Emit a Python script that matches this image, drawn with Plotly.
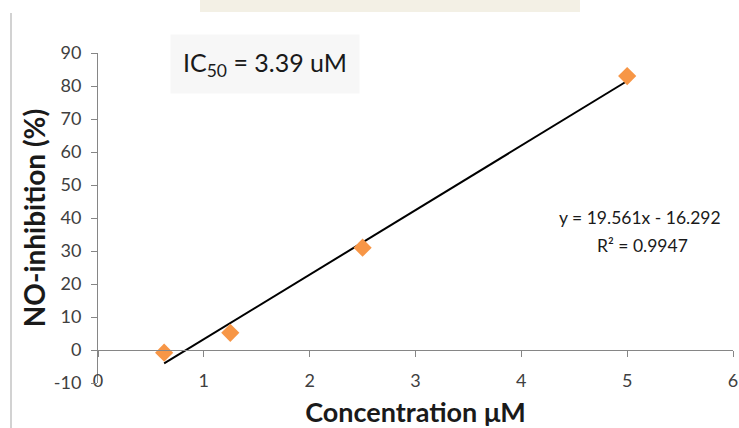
import plotly.graph_objects as go

# Data
conc = [0.625, 1.25, 2.5, 5.0]
inhibition = [-0.8, 5.2, 31.0, 83.0]
slope = 19.561
intercept = -16.292
r2 = 0.9947
ic50_text = "IC<sub>50</sub> = 3.39 uM"
x_ticks = [0, 1, 2, 3, 4, 5, 6]
x_labels = ["0", "1", "2", "3", "4", "5", "6"]
y_ticks = [-10, 0, 10, 20, 30, 40, 50, 60, 70, 80, 90]
y_labels = ["-10", "0", "10", "20", "30", "40", "50", "60", "70", "80", "90"]

W, H = 739, 428
L, R, T, B = 98, 6, 53, 45
pw, ph = W - L - R, H - T - B

def px_x(p):
    return (p - L) / pw

def px_y(p):
    return (H - B - p) / ph

trend_x = [min(conc), max(conc)]
trend_y = [slope * x + intercept for x in trend_x]

FONT = "Lato, 'Open Sans', sans-serif"
GREY = "#868686"
TXT = "#404040"

fig = go.Figure()
fig.add_trace(go.Scatter(x=trend_x, y=trend_y, mode="lines",
                         line=dict(color="black", width=2), hoverinfo="skip",
                         showlegend=False))
fig.add_trace(go.Scatter(x=conc, y=inhibition, mode="markers",
                         marker=dict(symbol="diamond", size=14, color="#F79646",
                                     line=dict(width=0)),
                         showlegend=False))

fig.update_layout(
    width=W, height=H,
    margin=dict(l=L, r=R, t=T, b=B, pad=0),
    paper_bgcolor="white", plot_bgcolor="white",
    font=dict(family=FONT, color=TXT),
    xaxis=dict(range=[0, 6], tickvals=x_ticks, ticktext=x_labels,
               showgrid=False, zeroline=False, automargin=False,
               anchor="free", position=0.1,
               showline=True, linecolor=GREY, linewidth=1,
               ticks="outside", ticklen=6, tickcolor=GREY,
               ticklabelstandoff=8,
               tickfont=dict(size=18, color=TXT, family=FONT),
               title=dict(text="<b>Concentration μM</b>", standoff=13,
                          font=dict(size=27, color="#1a1a1a", family=FONT))),
    yaxis=dict(range=[-10, 90], tickvals=y_ticks, ticktext=y_labels,
               showgrid=False, zeroline=False, automargin=False,
               showline=True, linecolor=GREY, linewidth=1,
               ticks="outside", ticklen=6, tickcolor=GREY,
               ticklabelstandoff=6,
               tickfont=dict(size=18, color=TXT, family=FONT),
               title=dict(text="<b>NO-inhibition (%)</b>", standoff=0,
                          font=dict(size=28, color="#1a1a1a", family=FONT))),
)

fig.add_annotation(xref="paper", yref="paper", x=px_x(265), y=px_y(64),
                   xanchor="center", yanchor="middle",
                   text=ic50_text, showarrow=False,
                   font=dict(size=25, color="#1a1a1a", family=FONT),
                   bgcolor="#f7f7f7", borderpad=12)
fig.add_annotation(xref="paper", yref="paper", x=px_x(640), y=px_y(217),
                   xanchor="center", yanchor="middle",
                   text=f"y = {slope}x - {abs(intercept)}",
                   showarrow=False, align="center",
                   font=dict(size=17.5, color="#1a1a1a", family=FONT))
fig.add_annotation(xref="paper", yref="paper", x=px_x(642), y=px_y(245),
                   xanchor="center", yanchor="middle",
                   text=f"R² = {r2}",
                   showarrow=False, align="center",
                   font=dict(size=17.5, color="#1a1a1a", family=FONT))

# page frame / watermark decorations
fig.add_shape(type="line", xref="paper", yref="paper",
              x0=px_x(11), x1=px_x(11), y0=px_y(13), y1=px_y(428),
              line=dict(color="#d2d2d2", width=2))
fig.add_shape(type="rect", xref="paper", yref="paper",
              x0=px_x(200), x1=px_x(580), y0=px_y(0), y1=px_y(12),
              fillcolor="#f3f0e5", line=dict(width=0), layer="below")

fig.write_html("out.html", config={"displayModeBar": False},
               post_script="document.body.style.margin='0';document.body.style.padding='0';")
